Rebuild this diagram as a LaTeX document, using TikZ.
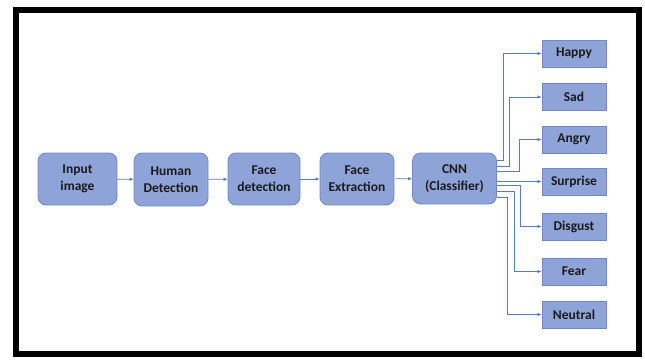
\documentclass[tikz,border=0pt]{standalone}
\usepackage{fontspec}
\setmainfont{Carlito}
\usetikzlibrary{arrows.meta}
\definecolor{boxfill}{HTML}{8EA4D8}
\definecolor{boxline}{HTML}{7089C4}
\definecolor{arrowc}{HTML}{5B7EBA}
\definecolor{txt}{HTML}{1A1A1A}
\begin{document}
\begin{tikzpicture}[x=1pt,y=-1pt,
  lbl/.style={font=\fontsize{13.5}{17}\selectfont\bfseries, text=txt, align=center, inner sep=0pt},
  stage/.style={lbl, draw=boxline, fill=boxfill, rounded corners=8pt, line width=0.8pt},
  cls/.style={lbl, draw=boxline, fill=boxfill, line width=0.8pt, minimum width=64pt, minimum height=27pt},
  arr/.style={draw=arrowc, line width=0.6pt, -{Latex[length=4pt,width=3.5pt]}}]
\path[use as bounding box] (0,0) rectangle (645,361);
\draw[line width=5.5pt] (15.8,9.8) rectangle (639,354.2);
\node[stage, minimum width=79pt, minimum height=52pt] (in)  at (77.5,179)   {Input\\image};
\node[stage, minimum width=74pt, minimum height=53pt] (hd)  at (171,179.5)  {Human\\Detection};
\node[stage, minimum width=72pt, minimum height=52pt] (fd)  at (264,179)    {Face\\detection};
\node[stage, minimum width=74pt, minimum height=52pt] (fe)  at (357,179)    {Face\\Extraction};
\node[stage, minimum width=84pt, minimum height=51pt] (cnn) at (454.5,178.5) {CNN\\(Classifier)};
\node[cls] (happy)    at (574,53.5)  {Happy};
\node[cls] (sad)      at (574,97)    {Sad};
\node[cls] (angry)    at (574,139.5) {Angry};
\node[cls] (surprise) at (574,181.5) {Surprise};
\node[cls] (disgust)  at (574,226.5) {Disgust};
\node[cls] (fear)     at (574,271.5) {Fear};
\node[cls] (neutral)  at (574,314.5) {Neutral};
\draw[arr] (in) -- (hd);
\draw[arr] (hd) -- (fd);
\draw[arr] (fd) -- (fe);
\draw[arr] (fe) -- (cnn);
\draw[arr] ([yshift=18.5pt]cnn.east) -- ++(6.5,0) |- (happy.west);
\draw[arr] ([yshift=12.5pt]cnn.east) -- ++(12.5,0) |- (sad.west);
\draw[arr] ([yshift=7.5pt]cnn.east) -- ++(22.5,0) |- (angry.west);
\draw[arr] (cnn.east |- surprise.west) -- (surprise.west);
\draw[arr] ([yshift=-6.5pt]cnn.east) -- ++(23.5,0) |- (disgust.west);
\draw[arr] ([yshift=-12.5pt]cnn.east) -- ++(17.5,0) |- (fear.west);
\draw[arr] ([yshift=-18.5pt]cnn.east) -- ++(10.5,0) |- (neutral.west);
\end{tikzpicture}
\end{document}
